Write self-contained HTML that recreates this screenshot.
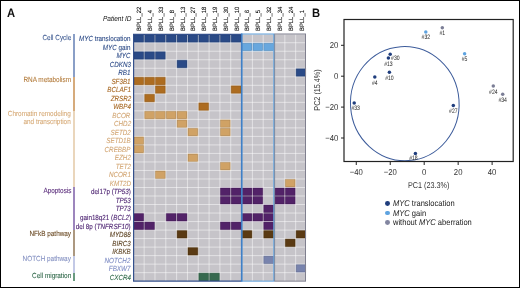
<!DOCTYPE html>
<html><head><meta charset="utf-8"><style>
html,body{margin:0;padding:0;}
body{width:520px;height:288px;position:relative;overflow:hidden;background:#fff;font-family:"Liberation Sans",sans-serif;text-rendering:geometricPrecision;}
#frame{position:absolute;left:0;top:0;width:520px;height:288px;box-sizing:border-box;border-top:1px solid #000;border-left:1px solid #000;border-right:1.4px solid #000;border-bottom:1.4px solid #000;}
.big{position:absolute;font-weight:bold;font-size:12.2px;line-height:14px;color:#111;transform:scaleX(0.92);transform-origin:left top;}
.gl{position:absolute;-webkit-text-stroke:0.1px currentColor;right:389.20px;font-size:7.4px;line-height:10px;white-space:nowrap;transform:scaleX(0.85);transform-origin:right center;}
.cl{position:absolute;-webkit-text-stroke:0.1px currentColor;right:449.00px;font-size:7.4px;line-height:7.3px;white-space:nowrap;text-align:right;transform:scaleX(0.865);transform-origin:right top;margin-top:0.3px}
.bar{position:absolute;left:73.1px;width:1.9px;}
.pl{position:absolute;top:30.7px;font-size:6.2px;line-height:7px;color:#000;-webkit-text-stroke:0.1px #000;white-space:nowrap;transform-origin:0 0;transform:rotate(-90deg) scaleX(0.95) translateY(-3.5px);}
svg{position:absolute;left:0;top:0;}
svg text{font-family:"Liberation Sans",sans-serif;font-size:6.4px;fill:#2a2a2a;}
svg text.tk{font-size:8.6px;fill:#333;}
.ax{position:absolute;font-size:8.5px;color:#333;white-space:nowrap;}
.lg{position:absolute;left:392.7px;font-size:8.4px;line-height:10px;color:#1a1a1a;white-space:nowrap;transform:scaleX(0.9);transform-origin:left center;}
.dot{position:absolute;left:384.8px;width:4.9px;height:4.9px;border-radius:50%;}
</style></head><body>
<div id="wrap" style="position:absolute;left:0;top:0;width:520px;height:288px;will-change:transform;">
<div class="big" style="left:7.1px;top:5.6px">A</div>
<div class="big" style="left:312.2px;top:5.6px">B</div>
<div style="position:absolute;left:103px;top:14.2px;font-size:7.4px;font-style:italic;color:#111;white-space:nowrap;transform:scaleX(0.88);transform-origin:left top">Patient ID</div>
<div class="pl" style="left:139.24px">BPLL_22</div><div class="pl" style="left:150.06px">BPLL_4</div><div class="pl" style="left:160.89px">BPLL_33</div><div class="pl" style="left:171.71px">BPLL_8</div><div class="pl" style="left:182.53px">BPLL_13</div><div class="pl" style="left:193.35px">BPLL_27</div><div class="pl" style="left:204.17px">BPLL_18</div><div class="pl" style="left:215.00px">BPLL_19</div><div class="pl" style="left:225.82px">BPLL_30</div><div class="pl" style="left:236.64px">BPLL_10</div><div class="pl" style="left:247.46px">BPLL_6</div><div class="pl" style="left:258.28px">BPLL_5</div><div class="pl" style="left:269.10px">BPLL_32</div><div class="pl" style="left:279.93px">BPLL_34</div><div class="pl" style="left:290.75px">BPLL_24</div><div class="pl" style="left:301.57px">BPLL_1</div>
<div class="bar" style="top:34.20px;height:42.58px;background:#8a9fc7"></div><div class="cl" style="top:33.46px;color:#3f5b92">Cell Cycle</div><div class="bar" style="top:76.78px;height:34.06px;background:#d6ab7c"></div><div class="cl" style="top:76.04px;color:#b47d3e">RNA metabolism</div><div class="bar" style="top:110.84px;height:76.64px;background:#ead6bc"></div><div class="cl" style="top:110.10px;color:#d7ab79">Chromatin remodeling<br>and transcription</div><div class="bar" style="top:187.49px;height:42.58px;background:#9d86bd"></div><div class="cl" style="top:186.75px;color:#5b2e7c">Apoptosis</div><div class="bar" style="top:230.07px;height:25.55px;background:#ac9880"></div><div class="cl" style="top:229.33px;color:#6b4b25">NFkB pathway</div><div class="bar" style="top:255.62px;height:17.03px;background:#c3c9e6"></div><div class="cl" style="top:254.87px;color:#8591c2">NOTCH pathway</div><div class="bar" style="top:272.65px;height:8.52px;background:#6a9b80"></div><div class="cl" style="top:271.91px;color:#30694a">Cell migration</div>
<div class="gl" style="top:34.16px;color:#2d4b87"><i>MYC</i> translocation</div><div class="gl" style="top:42.67px;color:#2d4b87"><i>MYC</i> gain</div><div class="gl" style="top:51.19px;color:#2d4b87"><i>MYC</i></div><div class="gl" style="top:59.71px;color:#2d4b87"><i>CDKN3</i></div><div class="gl" style="top:68.22px;color:#2d4b87"><i>RB1</i></div><div class="gl" style="top:76.74px;color:#a5651f"><i>SF3B1</i></div><div class="gl" style="top:85.25px;color:#a5651f"><i>BCLAF1</i></div><div class="gl" style="top:93.77px;color:#a5651f"><i>ZRSR2</i></div><div class="gl" style="top:102.29px;color:#a5651f"><i>WBP4</i></div><div class="gl" style="top:110.80px;color:#d2a674"><i>BCOR</i></div><div class="gl" style="top:119.32px;color:#d2a674"><i>CHD2</i></div><div class="gl" style="top:127.83px;color:#d2a674"><i>SETD2</i></div><div class="gl" style="top:136.35px;color:#d2a674"><i>SETD1B</i></div><div class="gl" style="top:144.87px;color:#d2a674"><i>CREBBP</i></div><div class="gl" style="top:153.38px;color:#d2a674"><i>EZH2</i></div><div class="gl" style="top:161.90px;color:#d2a674"><i>TET2</i></div><div class="gl" style="top:170.41px;color:#d2a674"><i>NCOR1</i></div><div class="gl" style="top:178.93px;color:#d2a674"><i>KMT2D</i></div><div class="gl" style="top:187.45px;color:#4b2170">del17p (<i>TP53</i>)</div><div class="gl" style="top:195.96px;color:#4b2170"><i>TP53</i></div><div class="gl" style="top:204.48px;color:#4b2170"><i>TP73</i></div><div class="gl" style="top:212.99px;color:#4b2170">gain18q21 (<i>BCL2</i>)</div><div class="gl" style="top:221.51px;color:#4b2170">del 8p (<i>TNFRSF10</i>)</div><div class="gl" style="top:230.03px;color:#5b4121"><i>MYD88</i></div><div class="gl" style="top:238.54px;color:#5b4121"><i>BIRC3</i></div><div class="gl" style="top:247.06px;color:#5b4121"><i>IKBKB</i></div><div class="gl" style="top:255.57px;color:#7d8bc3"><i>NOTCH2</i></div><div class="gl" style="top:264.09px;color:#7d8bc3"><i>FBXW7</i></div><div class="gl" style="top:272.61px;color:#2f6a49"><i>CXCR4</i></div>
<svg width="520" height="288" viewBox="0 0 520 288">
<clipPath id="gc"><rect x="133.33" y="34.20" width="172.77" height="246.96"/></clipPath><g clip-path="url(#gc)">
<rect x="133.33" y="34.20" width="172.77" height="246.96" fill="#c6c4c9"/>
<rect x="133.33" y="34.20" width="10.82" height="8.52" fill="#2a4a87"/>
<rect x="144.15" y="34.20" width="10.82" height="8.52" fill="#2a4a87"/>
<rect x="154.97" y="34.20" width="10.82" height="8.52" fill="#2a4a87"/>
<rect x="165.80" y="34.20" width="10.82" height="8.52" fill="#2a4a87"/>
<rect x="176.62" y="34.20" width="10.82" height="8.52" fill="#2a4a87"/>
<rect x="187.44" y="34.20" width="10.82" height="8.52" fill="#2a4a87"/>
<rect x="198.26" y="34.20" width="10.82" height="8.52" fill="#2a4a87"/>
<rect x="209.08" y="34.20" width="10.82" height="8.52" fill="#2a4a87"/>
<rect x="219.91" y="34.20" width="10.82" height="8.52" fill="#2a4a87"/>
<rect x="230.73" y="34.20" width="10.82" height="8.52" fill="#2a4a87"/>
<rect x="241.55" y="42.72" width="10.82" height="8.52" fill="#67a7de"/>
<rect x="252.37" y="42.72" width="10.82" height="8.52" fill="#67a7de"/>
<rect x="263.19" y="42.72" width="10.82" height="8.52" fill="#67a7de"/>
<rect x="133.33" y="51.23" width="10.82" height="8.52" fill="#2a4a87"/>
<rect x="144.15" y="51.23" width="10.82" height="8.52" fill="#2a4a87"/>
<rect x="154.97" y="51.23" width="10.82" height="8.52" fill="#2a4a87"/>
<rect x="176.62" y="59.75" width="10.82" height="8.52" fill="#2a4a87"/>
<rect x="295.66" y="68.26" width="10.82" height="8.52" fill="#2a4a87"/>
<rect x="133.33" y="76.78" width="10.82" height="8.52" fill="#ad6c20"/>
<rect x="144.15" y="76.78" width="10.82" height="8.52" fill="#ad6c20"/>
<rect x="154.97" y="76.78" width="10.82" height="8.52" fill="#ad6c20"/>
<rect x="154.97" y="85.30" width="10.82" height="8.52" fill="#ad6c20"/>
<rect x="230.73" y="85.30" width="10.82" height="8.52" fill="#ad6c20"/>
<rect x="144.15" y="93.81" width="10.82" height="8.52" fill="#ad6c20"/>
<rect x="198.26" y="102.33" width="10.82" height="8.52" fill="#ad6c20"/>
<rect x="144.15" y="110.84" width="10.82" height="8.52" fill="#d0a265"/>
<rect x="154.97" y="110.84" width="10.82" height="8.52" fill="#d0a265"/>
<rect x="165.80" y="110.84" width="10.82" height="8.52" fill="#d0a265"/>
<rect x="176.62" y="110.84" width="10.82" height="8.52" fill="#d0a265"/>
<rect x="176.62" y="119.36" width="10.82" height="8.52" fill="#d0a265"/>
<rect x="219.91" y="119.36" width="10.82" height="8.52" fill="#d0a265"/>
<rect x="187.44" y="127.88" width="10.82" height="8.52" fill="#d0a265"/>
<rect x="219.91" y="127.88" width="10.82" height="8.52" fill="#d0a265"/>
<rect x="133.33" y="136.39" width="10.82" height="8.52" fill="#d0a265"/>
<rect x="133.33" y="144.91" width="10.82" height="8.52" fill="#d0a265"/>
<rect x="187.44" y="153.42" width="10.82" height="8.52" fill="#d0a265"/>
<rect x="219.91" y="161.94" width="10.82" height="8.52" fill="#d0a265"/>
<rect x="154.97" y="170.46" width="10.82" height="8.52" fill="#d0a265"/>
<rect x="284.84" y="178.97" width="10.82" height="8.52" fill="#d0a265"/>
<rect x="219.91" y="187.49" width="10.82" height="8.52" fill="#522268"/>
<rect x="230.73" y="187.49" width="10.82" height="8.52" fill="#522268"/>
<rect x="241.55" y="187.49" width="10.82" height="8.52" fill="#522268"/>
<rect x="252.37" y="187.49" width="10.82" height="8.52" fill="#522268"/>
<rect x="274.02" y="187.49" width="10.82" height="8.52" fill="#522268"/>
<rect x="284.84" y="187.49" width="10.82" height="8.52" fill="#522268"/>
<rect x="219.91" y="196.00" width="10.82" height="8.52" fill="#522268"/>
<rect x="230.73" y="196.00" width="10.82" height="8.52" fill="#522268"/>
<rect x="241.55" y="196.00" width="10.82" height="8.52" fill="#522268"/>
<rect x="252.37" y="196.00" width="10.82" height="8.52" fill="#522268"/>
<rect x="274.02" y="196.00" width="10.82" height="8.52" fill="#522268"/>
<rect x="284.84" y="196.00" width="10.82" height="8.52" fill="#522268"/>
<rect x="263.19" y="204.52" width="10.82" height="8.52" fill="#522268"/>
<rect x="133.33" y="213.04" width="10.82" height="8.52" fill="#522268"/>
<rect x="165.80" y="213.04" width="10.82" height="8.52" fill="#522268"/>
<rect x="176.62" y="213.04" width="10.82" height="8.52" fill="#522268"/>
<rect x="241.55" y="213.04" width="10.82" height="8.52" fill="#522268"/>
<rect x="252.37" y="213.04" width="10.82" height="8.52" fill="#522268"/>
<rect x="263.19" y="213.04" width="10.82" height="8.52" fill="#522268"/>
<rect x="133.33" y="221.55" width="10.82" height="8.52" fill="#522268"/>
<rect x="144.15" y="221.55" width="10.82" height="8.52" fill="#522268"/>
<rect x="219.91" y="221.55" width="10.82" height="8.52" fill="#522268"/>
<rect x="230.73" y="221.55" width="10.82" height="8.52" fill="#522268"/>
<rect x="263.19" y="221.55" width="10.82" height="8.52" fill="#522268"/>
<rect x="176.62" y="230.07" width="10.82" height="8.52" fill="#5a3a13"/>
<rect x="241.55" y="230.07" width="10.82" height="8.52" fill="#5a3a13"/>
<rect x="263.19" y="230.07" width="10.82" height="8.52" fill="#5a3a13"/>
<rect x="295.66" y="230.07" width="10.82" height="8.52" fill="#5a3a13"/>
<rect x="284.84" y="238.58" width="10.82" height="8.52" fill="#5a3a13"/>
<rect x="187.44" y="247.10" width="10.82" height="8.52" fill="#5a3a13"/>
<rect x="263.19" y="255.62" width="10.82" height="8.52" fill="#7883ad"/>
<rect x="295.66" y="264.13" width="10.82" height="8.52" fill="#7883ad"/>
<rect x="198.26" y="272.65" width="10.82" height="8.52" fill="#366a4f"/>
<rect x="209.08" y="272.65" width="10.82" height="8.52" fill="#366a4f"/>
<rect x="143.65" y="34.20" width="1" height="246.96" fill="#fff" fill-opacity="0.5"/>
<rect x="154.47" y="34.20" width="1" height="246.96" fill="#fff" fill-opacity="0.5"/>
<rect x="165.30" y="34.20" width="1" height="246.96" fill="#fff" fill-opacity="0.5"/>
<rect x="176.12" y="34.20" width="1" height="246.96" fill="#fff" fill-opacity="0.5"/>
<rect x="186.94" y="34.20" width="1" height="246.96" fill="#fff" fill-opacity="0.5"/>
<rect x="197.76" y="34.20" width="1" height="246.96" fill="#fff" fill-opacity="0.5"/>
<rect x="208.58" y="34.20" width="1" height="246.96" fill="#fff" fill-opacity="0.5"/>
<rect x="219.41" y="34.20" width="1" height="246.96" fill="#fff" fill-opacity="0.5"/>
<rect x="230.23" y="34.20" width="1" height="246.96" fill="#fff" fill-opacity="0.5"/>
<rect x="241.05" y="34.20" width="1" height="246.96" fill="#fff" fill-opacity="0.5"/>
<rect x="251.87" y="34.20" width="1" height="246.96" fill="#fff" fill-opacity="0.5"/>
<rect x="262.69" y="34.20" width="1" height="246.96" fill="#fff" fill-opacity="0.5"/>
<rect x="273.52" y="34.20" width="1" height="246.96" fill="#fff" fill-opacity="0.5"/>
<rect x="284.34" y="34.20" width="1" height="246.96" fill="#fff" fill-opacity="0.5"/>
<rect x="295.16" y="34.20" width="1" height="246.96" fill="#fff" fill-opacity="0.5"/>
<rect x="133.33" y="42.22" width="172.77" height="1" fill="#fff" fill-opacity="0.5"/>
<rect x="133.33" y="50.73" width="172.77" height="1" fill="#fff" fill-opacity="0.5"/>
<rect x="133.33" y="59.25" width="172.77" height="1" fill="#fff" fill-opacity="0.5"/>
<rect x="133.33" y="67.76" width="172.77" height="1" fill="#fff" fill-opacity="0.5"/>
<rect x="133.33" y="76.28" width="172.77" height="1" fill="#fff" fill-opacity="0.5"/>
<rect x="133.33" y="84.80" width="172.77" height="1" fill="#fff" fill-opacity="0.5"/>
<rect x="133.33" y="93.31" width="172.77" height="1" fill="#fff" fill-opacity="0.5"/>
<rect x="133.33" y="101.83" width="172.77" height="1" fill="#fff" fill-opacity="0.5"/>
<rect x="133.33" y="110.34" width="172.77" height="1" fill="#fff" fill-opacity="0.5"/>
<rect x="133.33" y="118.86" width="172.77" height="1" fill="#fff" fill-opacity="0.5"/>
<rect x="133.33" y="127.38" width="172.77" height="1" fill="#fff" fill-opacity="0.5"/>
<rect x="133.33" y="135.89" width="172.77" height="1" fill="#fff" fill-opacity="0.5"/>
<rect x="133.33" y="144.41" width="172.77" height="1" fill="#fff" fill-opacity="0.5"/>
<rect x="133.33" y="152.92" width="172.77" height="1" fill="#fff" fill-opacity="0.5"/>
<rect x="133.33" y="161.44" width="172.77" height="1" fill="#fff" fill-opacity="0.5"/>
<rect x="133.33" y="169.96" width="172.77" height="1" fill="#fff" fill-opacity="0.5"/>
<rect x="133.33" y="178.47" width="172.77" height="1" fill="#fff" fill-opacity="0.5"/>
<rect x="133.33" y="186.99" width="172.77" height="1" fill="#fff" fill-opacity="0.5"/>
<rect x="133.33" y="195.50" width="172.77" height="1" fill="#fff" fill-opacity="0.5"/>
<rect x="133.33" y="204.02" width="172.77" height="1" fill="#fff" fill-opacity="0.5"/>
<rect x="133.33" y="212.54" width="172.77" height="1" fill="#fff" fill-opacity="0.5"/>
<rect x="133.33" y="221.05" width="172.77" height="1" fill="#fff" fill-opacity="0.5"/>
<rect x="133.33" y="229.57" width="172.77" height="1" fill="#fff" fill-opacity="0.5"/>
<rect x="133.33" y="238.08" width="172.77" height="1" fill="#fff" fill-opacity="0.5"/>
<rect x="133.33" y="246.60" width="172.77" height="1" fill="#fff" fill-opacity="0.5"/>
<rect x="133.33" y="255.12" width="172.77" height="1" fill="#fff" fill-opacity="0.5"/>
<rect x="133.33" y="263.63" width="172.77" height="1" fill="#fff" fill-opacity="0.5"/>
<rect x="133.33" y="272.15" width="172.77" height="1" fill="#fff" fill-opacity="0.5"/>
<rect x="134.08" y="34.95" width="9.32" height="7.02" fill="none" stroke="#000" stroke-opacity="0.18" stroke-width="0.5"/>
<rect x="144.90" y="34.95" width="9.32" height="7.02" fill="none" stroke="#000" stroke-opacity="0.18" stroke-width="0.5"/>
<rect x="155.72" y="34.95" width="9.32" height="7.02" fill="none" stroke="#000" stroke-opacity="0.18" stroke-width="0.5"/>
<rect x="166.55" y="34.95" width="9.32" height="7.02" fill="none" stroke="#000" stroke-opacity="0.18" stroke-width="0.5"/>
<rect x="177.37" y="34.95" width="9.32" height="7.02" fill="none" stroke="#000" stroke-opacity="0.18" stroke-width="0.5"/>
<rect x="188.19" y="34.95" width="9.32" height="7.02" fill="none" stroke="#000" stroke-opacity="0.18" stroke-width="0.5"/>
<rect x="199.01" y="34.95" width="9.32" height="7.02" fill="none" stroke="#000" stroke-opacity="0.18" stroke-width="0.5"/>
<rect x="209.83" y="34.95" width="9.32" height="7.02" fill="none" stroke="#000" stroke-opacity="0.18" stroke-width="0.5"/>
<rect x="220.66" y="34.95" width="9.32" height="7.02" fill="none" stroke="#000" stroke-opacity="0.18" stroke-width="0.5"/>
<rect x="231.48" y="34.95" width="9.32" height="7.02" fill="none" stroke="#000" stroke-opacity="0.18" stroke-width="0.5"/>
<rect x="242.30" y="43.47" width="9.32" height="7.02" fill="none" stroke="#000" stroke-opacity="0.18" stroke-width="0.5"/>
<rect x="253.12" y="43.47" width="9.32" height="7.02" fill="none" stroke="#000" stroke-opacity="0.18" stroke-width="0.5"/>
<rect x="263.94" y="43.47" width="9.32" height="7.02" fill="none" stroke="#000" stroke-opacity="0.18" stroke-width="0.5"/>
<rect x="134.08" y="51.98" width="9.32" height="7.02" fill="none" stroke="#000" stroke-opacity="0.18" stroke-width="0.5"/>
<rect x="144.90" y="51.98" width="9.32" height="7.02" fill="none" stroke="#000" stroke-opacity="0.18" stroke-width="0.5"/>
<rect x="155.72" y="51.98" width="9.32" height="7.02" fill="none" stroke="#000" stroke-opacity="0.18" stroke-width="0.5"/>
<rect x="177.37" y="60.50" width="9.32" height="7.02" fill="none" stroke="#000" stroke-opacity="0.18" stroke-width="0.5"/>
<rect x="296.41" y="69.01" width="9.32" height="7.02" fill="none" stroke="#000" stroke-opacity="0.18" stroke-width="0.5"/>
<rect x="134.08" y="77.53" width="9.32" height="7.02" fill="none" stroke="#000" stroke-opacity="0.18" stroke-width="0.5"/>
<rect x="144.90" y="77.53" width="9.32" height="7.02" fill="none" stroke="#000" stroke-opacity="0.18" stroke-width="0.5"/>
<rect x="155.72" y="77.53" width="9.32" height="7.02" fill="none" stroke="#000" stroke-opacity="0.18" stroke-width="0.5"/>
<rect x="155.72" y="86.05" width="9.32" height="7.02" fill="none" stroke="#000" stroke-opacity="0.18" stroke-width="0.5"/>
<rect x="231.48" y="86.05" width="9.32" height="7.02" fill="none" stroke="#000" stroke-opacity="0.18" stroke-width="0.5"/>
<rect x="144.90" y="94.56" width="9.32" height="7.02" fill="none" stroke="#000" stroke-opacity="0.18" stroke-width="0.5"/>
<rect x="199.01" y="103.08" width="9.32" height="7.02" fill="none" stroke="#000" stroke-opacity="0.18" stroke-width="0.5"/>
<rect x="144.90" y="111.59" width="9.32" height="7.02" fill="none" stroke="#000" stroke-opacity="0.18" stroke-width="0.5"/>
<rect x="155.72" y="111.59" width="9.32" height="7.02" fill="none" stroke="#000" stroke-opacity="0.18" stroke-width="0.5"/>
<rect x="166.55" y="111.59" width="9.32" height="7.02" fill="none" stroke="#000" stroke-opacity="0.18" stroke-width="0.5"/>
<rect x="177.37" y="111.59" width="9.32" height="7.02" fill="none" stroke="#000" stroke-opacity="0.18" stroke-width="0.5"/>
<rect x="177.37" y="120.11" width="9.32" height="7.02" fill="none" stroke="#000" stroke-opacity="0.18" stroke-width="0.5"/>
<rect x="220.66" y="120.11" width="9.32" height="7.02" fill="none" stroke="#000" stroke-opacity="0.18" stroke-width="0.5"/>
<rect x="188.19" y="128.63" width="9.32" height="7.02" fill="none" stroke="#000" stroke-opacity="0.18" stroke-width="0.5"/>
<rect x="220.66" y="128.63" width="9.32" height="7.02" fill="none" stroke="#000" stroke-opacity="0.18" stroke-width="0.5"/>
<rect x="134.08" y="137.14" width="9.32" height="7.02" fill="none" stroke="#000" stroke-opacity="0.18" stroke-width="0.5"/>
<rect x="134.08" y="145.66" width="9.32" height="7.02" fill="none" stroke="#000" stroke-opacity="0.18" stroke-width="0.5"/>
<rect x="188.19" y="154.17" width="9.32" height="7.02" fill="none" stroke="#000" stroke-opacity="0.18" stroke-width="0.5"/>
<rect x="220.66" y="162.69" width="9.32" height="7.02" fill="none" stroke="#000" stroke-opacity="0.18" stroke-width="0.5"/>
<rect x="155.72" y="171.21" width="9.32" height="7.02" fill="none" stroke="#000" stroke-opacity="0.18" stroke-width="0.5"/>
<rect x="285.59" y="179.72" width="9.32" height="7.02" fill="none" stroke="#000" stroke-opacity="0.18" stroke-width="0.5"/>
<rect x="220.66" y="188.24" width="9.32" height="7.02" fill="none" stroke="#000" stroke-opacity="0.18" stroke-width="0.5"/>
<rect x="231.48" y="188.24" width="9.32" height="7.02" fill="none" stroke="#000" stroke-opacity="0.18" stroke-width="0.5"/>
<rect x="242.30" y="188.24" width="9.32" height="7.02" fill="none" stroke="#000" stroke-opacity="0.18" stroke-width="0.5"/>
<rect x="253.12" y="188.24" width="9.32" height="7.02" fill="none" stroke="#000" stroke-opacity="0.18" stroke-width="0.5"/>
<rect x="274.77" y="188.24" width="9.32" height="7.02" fill="none" stroke="#000" stroke-opacity="0.18" stroke-width="0.5"/>
<rect x="285.59" y="188.24" width="9.32" height="7.02" fill="none" stroke="#000" stroke-opacity="0.18" stroke-width="0.5"/>
<rect x="220.66" y="196.75" width="9.32" height="7.02" fill="none" stroke="#000" stroke-opacity="0.18" stroke-width="0.5"/>
<rect x="231.48" y="196.75" width="9.32" height="7.02" fill="none" stroke="#000" stroke-opacity="0.18" stroke-width="0.5"/>
<rect x="242.30" y="196.75" width="9.32" height="7.02" fill="none" stroke="#000" stroke-opacity="0.18" stroke-width="0.5"/>
<rect x="253.12" y="196.75" width="9.32" height="7.02" fill="none" stroke="#000" stroke-opacity="0.18" stroke-width="0.5"/>
<rect x="274.77" y="196.75" width="9.32" height="7.02" fill="none" stroke="#000" stroke-opacity="0.18" stroke-width="0.5"/>
<rect x="285.59" y="196.75" width="9.32" height="7.02" fill="none" stroke="#000" stroke-opacity="0.18" stroke-width="0.5"/>
<rect x="263.94" y="205.27" width="9.32" height="7.02" fill="none" stroke="#000" stroke-opacity="0.18" stroke-width="0.5"/>
<rect x="134.08" y="213.79" width="9.32" height="7.02" fill="none" stroke="#000" stroke-opacity="0.18" stroke-width="0.5"/>
<rect x="166.55" y="213.79" width="9.32" height="7.02" fill="none" stroke="#000" stroke-opacity="0.18" stroke-width="0.5"/>
<rect x="177.37" y="213.79" width="9.32" height="7.02" fill="none" stroke="#000" stroke-opacity="0.18" stroke-width="0.5"/>
<rect x="242.30" y="213.79" width="9.32" height="7.02" fill="none" stroke="#000" stroke-opacity="0.18" stroke-width="0.5"/>
<rect x="253.12" y="213.79" width="9.32" height="7.02" fill="none" stroke="#000" stroke-opacity="0.18" stroke-width="0.5"/>
<rect x="263.94" y="213.79" width="9.32" height="7.02" fill="none" stroke="#000" stroke-opacity="0.18" stroke-width="0.5"/>
<rect x="134.08" y="222.30" width="9.32" height="7.02" fill="none" stroke="#000" stroke-opacity="0.18" stroke-width="0.5"/>
<rect x="144.90" y="222.30" width="9.32" height="7.02" fill="none" stroke="#000" stroke-opacity="0.18" stroke-width="0.5"/>
<rect x="220.66" y="222.30" width="9.32" height="7.02" fill="none" stroke="#000" stroke-opacity="0.18" stroke-width="0.5"/>
<rect x="231.48" y="222.30" width="9.32" height="7.02" fill="none" stroke="#000" stroke-opacity="0.18" stroke-width="0.5"/>
<rect x="263.94" y="222.30" width="9.32" height="7.02" fill="none" stroke="#000" stroke-opacity="0.18" stroke-width="0.5"/>
<rect x="177.37" y="230.82" width="9.32" height="7.02" fill="none" stroke="#000" stroke-opacity="0.18" stroke-width="0.5"/>
<rect x="242.30" y="230.82" width="9.32" height="7.02" fill="none" stroke="#000" stroke-opacity="0.18" stroke-width="0.5"/>
<rect x="263.94" y="230.82" width="9.32" height="7.02" fill="none" stroke="#000" stroke-opacity="0.18" stroke-width="0.5"/>
<rect x="296.41" y="230.82" width="9.32" height="7.02" fill="none" stroke="#000" stroke-opacity="0.18" stroke-width="0.5"/>
<rect x="285.59" y="239.33" width="9.32" height="7.02" fill="none" stroke="#000" stroke-opacity="0.18" stroke-width="0.5"/>
<rect x="188.19" y="247.85" width="9.32" height="7.02" fill="none" stroke="#000" stroke-opacity="0.18" stroke-width="0.5"/>
<rect x="263.94" y="256.37" width="9.32" height="7.02" fill="none" stroke="#000" stroke-opacity="0.18" stroke-width="0.5"/>
<rect x="296.41" y="264.88" width="9.32" height="7.02" fill="none" stroke="#000" stroke-opacity="0.18" stroke-width="0.5"/>
<rect x="199.01" y="273.40" width="9.32" height="7.02" fill="none" stroke="#000" stroke-opacity="0.18" stroke-width="0.5"/>
<rect x="209.83" y="273.40" width="9.32" height="7.02" fill="none" stroke="#000" stroke-opacity="0.18" stroke-width="0.5"/>
</g>
<rect x="274.60" y="34.00" width="30.90" height="247.16" fill="none" stroke="#80808f" stroke-width="1.0"/>
<rect x="241.90" y="34.00" width="31.90" height="247.16" fill="none" stroke="#5fa0dc" stroke-width="1.0"/>
<path d="M241.2 34.40 H133.6 V281.16 H241.2" fill="none" stroke="#34508c" stroke-width="1.2"/>
<line x1="241.65" y1="33.40" x2="241.65" y2="281.76" stroke="#3f7fc6" stroke-width="1.5"/>
<ellipse cx="404.8" cy="103.6" rx="54.3" ry="57.1" fill="none" stroke="#3d5c9b" stroke-width="1" transform="rotate(-4 404.8 103.6)"/>
<circle cx="425.8" cy="31.9" r="1.75" fill="#5ea3e0"/>
<text class="pt" transform="translate(425.80 39.40) scale(0.8 1)" text-anchor="middle">#32</text>
<circle cx="442.3" cy="27.7" r="1.75" fill="#7b7e96"/>
<text class="pt" transform="translate(442.30 35.20) scale(0.8 1)" text-anchor="middle">#1</text>
<circle cx="464.6" cy="53.75" r="1.75" fill="#5ea3e0"/>
<text class="pt" transform="translate(464.60 61.25) scale(0.8 1)" text-anchor="middle">#5</text>
<circle cx="390.2" cy="54.2" r="1.75" fill="#1f3d7d"/>
<text class="pt" transform="translate(391.10 60.20) scale(0.8 1)" text-anchor="start">#30</text>
<circle cx="388.4" cy="58.0" r="1.75" fill="#1f3d7d"/>
<text class="pt" transform="translate(388.40 65.50) scale(0.8 1)" text-anchor="middle">#13</text>
<circle cx="389.4" cy="72.3" r="1.75" fill="#1f3d7d"/>
<text class="pt" transform="translate(389.40 79.80) scale(0.8 1)" text-anchor="middle">#10</text>
<circle cx="374.8" cy="77.1" r="1.75" fill="#1f3d7d"/>
<text class="pt" transform="translate(374.80 84.60) scale(0.8 1)" text-anchor="middle">#4</text>
<circle cx="354.2" cy="102.9" r="1.75" fill="#1f3d7d"/>
<text class="pt" transform="translate(355.70 110.40) scale(0.8 1)" text-anchor="middle">#33</text>
<circle cx="453.3" cy="105.4" r="1.75" fill="#1f3d7d"/>
<text class="pt" transform="translate(453.30 112.90) scale(0.8 1)" text-anchor="middle">#27</text>
<circle cx="415.4" cy="153.5" r="1.75" fill="#1f3d7d"/>
<text class="pt" transform="translate(413.40 159.80) scale(0.8 1)" text-anchor="middle">#18</text>
<circle cx="493.3" cy="86.0" r="1.75" fill="#7b7e96"/>
<text class="pt" transform="translate(493.30 93.50) scale(0.8 1)" text-anchor="middle">#24</text>
<circle cx="502.7" cy="94.2" r="1.75" fill="#7b7e96"/>
<text class="pt" transform="translate(502.70 101.70) scale(0.8 1)" text-anchor="middle">#34</text>
<rect x="344" y="19.5" width="169.2" height="142" fill="none" stroke="#222" stroke-width="1.2"/>
<line x1="356.28" y1="162" x2="356.28" y2="165" stroke="#222" stroke-width="1"/>
<text class="tk" transform="translate(356.28 175.2) scale(0.9 1)" text-anchor="middle">−40</text>
<line x1="390.24" y1="162" x2="390.24" y2="165" stroke="#222" stroke-width="1"/>
<text class="tk" transform="translate(390.24 175.2) scale(0.9 1)" text-anchor="middle">−20</text>
<line x1="424.20" y1="162" x2="424.20" y2="165" stroke="#222" stroke-width="1"/>
<text class="tk" transform="translate(424.20 175.2) scale(0.9 1)" text-anchor="middle">0</text>
<line x1="458.16" y1="162" x2="458.16" y2="165" stroke="#222" stroke-width="1"/>
<text class="tk" transform="translate(458.16 175.2) scale(0.9 1)" text-anchor="middle">20</text>
<line x1="492.12" y1="162" x2="492.12" y2="165" stroke="#222" stroke-width="1"/>
<text class="tk" transform="translate(492.12 175.2) scale(0.9 1)" text-anchor="middle">40</text>
<line x1="341" y1="45.30" x2="344" y2="45.30" stroke="#222" stroke-width="1"/>
<text class="tk" transform="translate(338.3 48.20) scale(0.9 1)" text-anchor="end">20</text>
<line x1="341" y1="76.20" x2="344" y2="76.20" stroke="#222" stroke-width="1"/>
<text class="tk" transform="translate(338.3 79.10) scale(0.9 1)" text-anchor="end">0</text>
<line x1="341" y1="107.10" x2="344" y2="107.10" stroke="#222" stroke-width="1"/>
<text class="tk" transform="translate(338.3 110.00) scale(0.9 1)" text-anchor="end">−20</text>
<line x1="341" y1="138.00" x2="344" y2="138.00" stroke="#222" stroke-width="1"/>
<text class="tk" transform="translate(338.3 140.90) scale(0.9 1)" text-anchor="end">−40</text>
</svg>
<div class="ax" style="left:407.9px;top:179.5px;transform:scaleX(0.85);transform-origin:left top">PC1 (23.3%)</div>
<div class="ax" style="left:316.7px;top:89.8px;transform:translate(-50%,-50%) rotate(-90deg) scaleX(0.85);">PC2 (15.4%)</div>
<div class="dot" style="top:200.9px;background:#1f3d7d"></div>
<div class="lg" style="top:198.2px"><i>MYC</i> translocation</div>
<div class="dot" style="top:210.6px;background:#5ea3e0"></div>
<div class="lg" style="top:207.6px"><i>MYC</i> gain</div>
<div class="dot" style="top:220.2px;background:#8285a0"></div>
<div class="lg" style="top:217.3px">without <i>MYC</i> aberration</div>
<div id="frame"></div>
</div>
</body></html>
